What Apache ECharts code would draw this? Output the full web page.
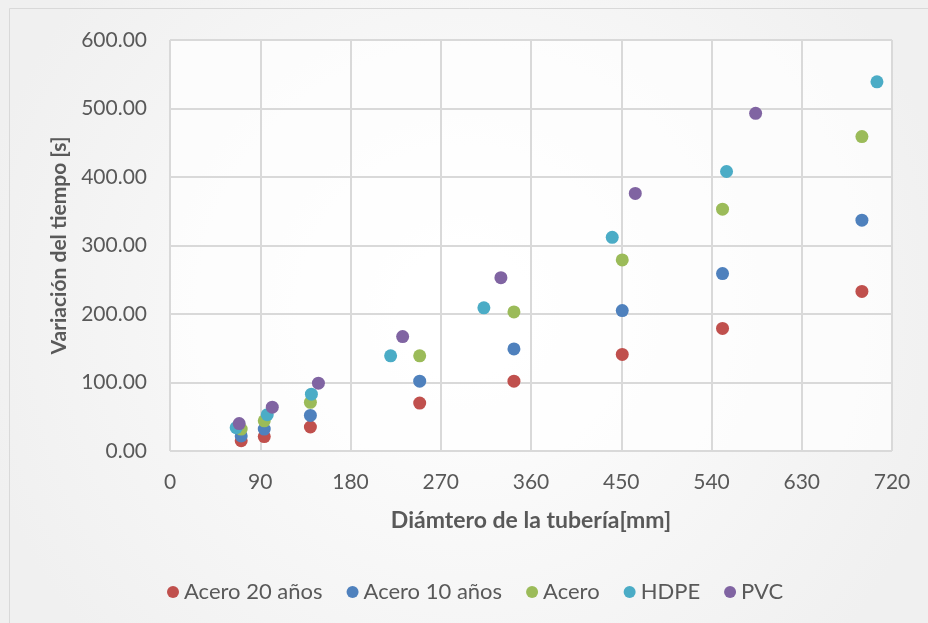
<!DOCTYPE html>
<html><head><meta charset="utf-8">
<script src="https://cdn.jsdelivr.net/npm/echarts@6/dist/echarts.min.js"></script>
<style>html,body{margin:0;padding:0;}#c{width:928px;height:623px;}</style>
</head><body><div id="c"></div>
<script>
var seriesNames = ["Acero 20 años", "Acero 10 años", "Acero", "HDPE", "PVC"];
var colors = ["#C0504D", "#4F81BD", "#9BBB59", "#4BACC6", "#8064A2"];
var diamAcero = [71, 94, 140, 249, 343, 451, 551, 690];
var acero20 = [15, 21, 35, 70, 102, 141, 179, 233];
var acero10 = [22, 32, 52, 102, 149, 205, 259, 337];
var acero = [32, 44, 71, 139, 203, 279, 353, 459];
var diamHDPE = [66, 97, 141, 220, 313, 441, 555, 705];
var hdpe = [34, 53, 83, 139, 209, 312, 408, 539];
var diamPVC = [69, 102, 148, 232, 330, 464, 584];
var pvc = [40, 64, 99, 167, 253, 376, 493];
var xTicks = [0, 90, 180, 270, 360, 450, 540, 630, 720];
var yTicks = [0, 100, 200, 300, 400, 500, 600];

function pairs(xs, ys) { return xs.map(function (x, i) { return [x, ys[i]]; }); }
var seriesData = [
  pairs(diamAcero, acero20),
  pairs(diamAcero, acero10),
  pairs(diamAcero, acero),
  pairs(diamHDPE, hdpe),
  pairs(diamPVC, pvc)
];

var FONT = "Lato";
var chart = echarts.init(document.getElementById('c'), null, {renderer: 'canvas'});
var option = {
  backgroundColor: {
    type: 'radial', x: 0.5, y: 0.5, r: 0.8,
    colorStops: [{offset: 0, color: '#ffffff'}, {offset: 1, color: '#f0f0f0'}]
  },
  textStyle: {fontFamily: FONT},
  animation: false,
  graphic: [{
    type: 'rect', shape: {x: 9.5, y: 8.5, width: 940, height: 640},
    style: {fill: null, stroke: '#d9d9d9', lineWidth: 1}, silent: true
  }],
  grid: {left: 170, right: 36, top: 40, bottom: 172, show: true, backgroundColor: 'rgba(255,255,255,0.7)', borderWidth: 0},
  legend: {
    data: seriesNames,
    left: 162, top: 576,
    icon: 'circle', itemWidth: 12, itemHeight: 12, itemGap: 24,
    textStyle: {color: '#595959', fontSize: 22, fontFamily: FONT}
  },
  xAxis: {
    type: 'value', min: xTicks[0], max: xTicks[xTicks.length - 1], interval: 90,
    name: 'Diámtero de la tubería[mm]', nameLocation: 'middle', nameGap: 58,
    nameTextStyle: {color: '#595959', fontSize: 23, fontWeight: 'bold', fontFamily: FONT},
    axisLine: {show: false}, axisTick: {show: false},
    axisLabel: {color: '#595959', fontSize: 21, margin: 21, fontFamily: FONT},
    splitLine: {show: true, lineStyle: {color: '#d9d9d9', width: 2}}
  },
  yAxis: {
    type: 'value', min: yTicks[0], max: yTicks[yTicks.length - 1], interval: 100,
    name: 'Variación del tiempo [s]', nameLocation: 'middle', nameGap: 100,
    nameTextStyle: {color: '#595959', fontSize: 21, fontWeight: 'bold', fontFamily: FONT},
    axisLine: {show: false}, axisTick: {show: false},
    axisLabel: {color: '#595959', fontSize: 21, margin: 23, fontFamily: FONT,
      formatter: function (v) { return v.toFixed(2); }},
    splitLine: {show: true, lineStyle: {color: '#d9d9d9', width: 2}}
  },
  series: seriesNames.map(function (n, i) {
    return {
      name: n, type: 'scatter', data: seriesData[i], symbol: 'circle', symbolSize: 13,
      itemStyle: {color: colors[i], opacity: 1}
    };
  })
};
chart.setOption(option);
</script></body></html>
